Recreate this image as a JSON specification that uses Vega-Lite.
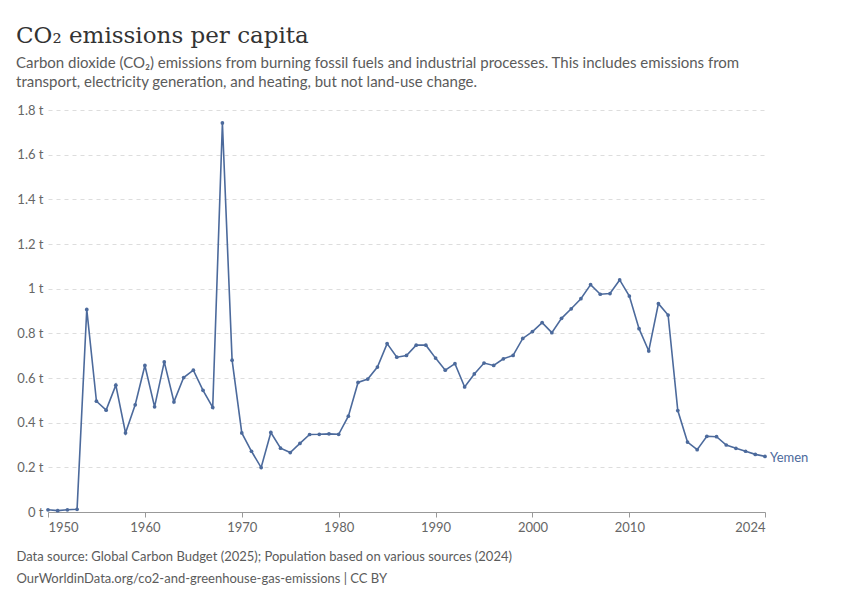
{
  "$schema": "https://vega.github.io/schema/vega-lite/v6.json",
  "autosize": {"type": "none"},
  "width": 717,
  "height": 402,
  "padding": {"left": 48, "top": 110, "right": 85, "bottom": 88},
  "background": "white",
  "title": {
    "text": "CO₂ emissions per capita",
    "subtitle": [
      "Carbon dioxide (CO₂) emissions from burning fossil fuels and industrial processes. This includes emissions from",
      "transport, electricity generation, and heating, but not land-use change."
    ],
    "anchor": "start",
    "frame": "group",
    "dx": -32,
    "offset": 14,
    "font": "DejaVu Serif",
    "fontSize": 23,
    "fontWeight": "normal",
    "color": "#333333",
    "subtitleFont": "Lato",
    "subtitleFontSize": 15,
    "subtitleColor": "#5b5b5b",
    "subtitleLineHeight": 19,
    "subtitlePadding": 8
  },
  "data": {
    "values": [
      {"year": 1950, "co2": 0.010}, {"year": 1951, "co2": 0.006}, {"year": 1952, "co2": 0.010},
      {"year": 1953, "co2": 0.012}, {"year": 1954, "co2": 0.907}, {"year": 1955, "co2": 0.496},
      {"year": 1956, "co2": 0.456}, {"year": 1957, "co2": 0.568}, {"year": 1958, "co2": 0.354},
      {"year": 1959, "co2": 0.480}, {"year": 1960, "co2": 0.656}, {"year": 1961, "co2": 0.471},
      {"year": 1962, "co2": 0.672}, {"year": 1963, "co2": 0.493}, {"year": 1964, "co2": 0.602},
      {"year": 1965, "co2": 0.635}, {"year": 1966, "co2": 0.545}, {"year": 1967, "co2": 0.468},
      {"year": 1968, "co2": 1.742}, {"year": 1969, "co2": 0.680}, {"year": 1970, "co2": 0.354},
      {"year": 1971, "co2": 0.272}, {"year": 1972, "co2": 0.199}, {"year": 1973, "co2": 0.356},
      {"year": 1974, "co2": 0.286}, {"year": 1975, "co2": 0.266}, {"year": 1976, "co2": 0.307},
      {"year": 1977, "co2": 0.347}, {"year": 1978, "co2": 0.348}, {"year": 1979, "co2": 0.350},
      {"year": 1980, "co2": 0.348}, {"year": 1981, "co2": 0.429}, {"year": 1982, "co2": 0.580},
      {"year": 1983, "co2": 0.595}, {"year": 1984, "co2": 0.649}, {"year": 1985, "co2": 0.754},
      {"year": 1986, "co2": 0.693}, {"year": 1987, "co2": 0.701}, {"year": 1988, "co2": 0.747},
      {"year": 1989, "co2": 0.747}, {"year": 1990, "co2": 0.689}, {"year": 1991, "co2": 0.635},
      {"year": 1992, "co2": 0.664}, {"year": 1993, "co2": 0.560}, {"year": 1994, "co2": 0.618},
      {"year": 1995, "co2": 0.667}, {"year": 1996, "co2": 0.656}, {"year": 1997, "co2": 0.686},
      {"year": 1998, "co2": 0.701}, {"year": 1999, "co2": 0.777}, {"year": 2000, "co2": 0.808},
      {"year": 2001, "co2": 0.848}, {"year": 2002, "co2": 0.803}, {"year": 2003, "co2": 0.867},
      {"year": 2004, "co2": 0.910}, {"year": 2005, "co2": 0.955}, {"year": 2006, "co2": 1.018},
      {"year": 2007, "co2": 0.975}, {"year": 2008, "co2": 0.978}, {"year": 2009, "co2": 1.039},
      {"year": 2010, "co2": 0.967}, {"year": 2011, "co2": 0.821}, {"year": 2012, "co2": 0.721},
      {"year": 2013, "co2": 0.933}, {"year": 2014, "co2": 0.882}, {"year": 2015, "co2": 0.454},
      {"year": 2016, "co2": 0.313}, {"year": 2017, "co2": 0.279}, {"year": 2018, "co2": 0.339},
      {"year": 2019, "co2": 0.337}, {"year": 2020, "co2": 0.300}, {"year": 2021, "co2": 0.285},
      {"year": 2022, "co2": 0.272}, {"year": 2023, "co2": 0.258}, {"year": 2024, "co2": 0.249}
    ]
  },
  "encoding": {
    "x": {
      "field": "year",
      "type": "quantitative",
      "scale": {"domain": [1950, 2024], "nice": false, "zero": false},
      "axis": {
        "values": [1950, 1960, 1970, 1980, 1990, 2000, 2010, 2024],
        "format": "d",
        "grid": false,
        "labelFlush": true,
        "labelFont": "Lato",
        "labelFontSize": 13,
        "labelColor": "#666666",
        "labelPadding": 4,
        "tickSize": 5,
        "tickColor": "#999999",
        "domainColor": "#999999",
        "title": [
          "Data source: Global Carbon Budget (2025); Population based on various sources (2024)",
          "OurWorldinData.org/co2-and-greenhouse-gas-emissions | CC BY"
        ],
        "titleAnchor": "start",
        "titleAlign": "left",
        "titleBaseline": "alphabetic",
        "titleX": -32,
        "titleY": 48,
        "titleFont": "Lato",
        "titleFontSize": 13,
        "titleFontWeight": "normal",
        "titleColor": "#5b5b5b",
        "titleLineHeight": 22
      }
    },
    "y": {
      "field": "co2",
      "type": "quantitative",
      "scale": {"domain": [0, 1.8], "nice": false},
      "axis": {
        "values": [0, 0.2, 0.4, 0.6, 0.8, 1, 1.2, 1.4, 1.6, 1.8],
        "labelExpr": "format(datum.value, '~g') + ' t'",
        "domain": false,
        "ticks": false,
        "gridColor": "#dddddd",
        "gridDash": [4, 4],
        "labelFont": "Lato",
        "labelFontSize": 13,
        "labelColor": "#666666",
        "labelPadding": 5,
        "title": null
      }
    }
  },
  "layer": [
    {
      "mark": {"type": "line", "color": "#4c6a9c", "strokeWidth": 1.6}
    },
    {
      "mark": {"type": "point", "filled": true, "color": "#4c6a9c", "opacity": 1, "size": 14}
    },
    {
      "transform": [{"filter": "datum.year == 2024"}],
      "mark": {"type": "text", "align": "left", "dx": 5, "dy": 2, "font": "Lato", "fontSize": 13, "color": "#4c6a9c"},
      "encoding": {"text": {"value": "Yemen"}}
    }
  ],
  "config": {
    "view": {"stroke": null}
  }
}
